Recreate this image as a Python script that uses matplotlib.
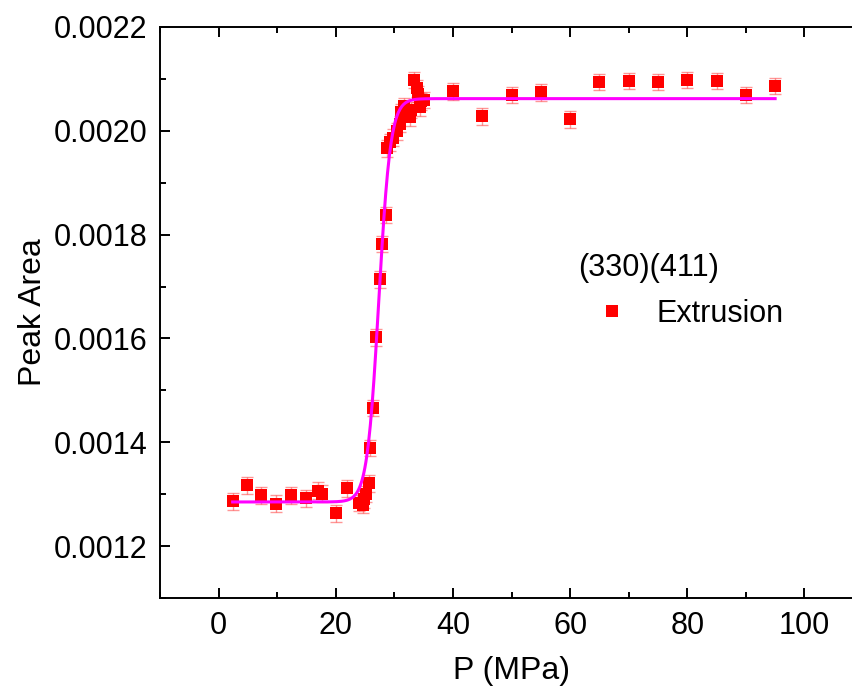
import numpy as np
import matplotlib
matplotlib.use("Agg")
import matplotlib.pyplot as plt
from matplotlib.ticker import MultipleLocator, FormatStrFormatter

plt.rcParams['font.family'] = ['Liberation Sans', 'DejaVu Sans']

# pressure (MPa) and peak area
pressure = [2.4, 4.9, 7.3, 9.8, 12.4, 14.9, 16.9, 17.7, 20.0, 22.0,
            24.0, 24.6, 24.9, 25.2, 25.6, 25.9, 26.4, 26.9, 27.5, 27.9, 28.5,
            28.8, 29.3, 29.8, 30.4, 30.9, 31.2, 31.6, 32.1, 32.6, 32.9,
            33.3, 33.8, 34.1, 34.3, 34.6, 35.1,
            40, 45, 50, 55, 60, 65, 70, 75, 80, 85, 90, 95]
peak_area = [0.001286, 0.001317, 0.001298, 0.001282, 0.001298, 0.001292, 0.001307, 0.001301, 0.001263, 0.001311,
             0.001283, 0.001280, 0.001290, 0.001300, 0.001321, 0.001389, 0.001466, 0.001602, 0.001714, 0.001782, 0.001838,
             0.001966, 0.001978, 0.001987, 0.001999, 0.002013, 0.002036, 0.002047, 0.002036, 0.002026, 0.002040,
             0.002098, 0.002082, 0.002071, 0.002045, 0.002057, 0.002059,
             0.002076, 0.002028, 0.002069, 0.002074, 0.002022, 0.002094, 0.002096, 0.002094, 0.002098, 0.002096,
             0.002069, 0.002086]
area_err = 0.000016

# Boltzmann fit parameters
A1 = 0.001285
A2 = 0.002062
x0 = 27.35
dx = 1.0

fig = plt.figure(figsize=(8.52, 6.92), dpi=100)
ax = fig.add_axes([160/852, 1-598/692, 703/852, 571/692])

ax.errorbar(pressure, peak_area, yerr=area_err, fmt='none', ecolor='#ff4040',
            elinewidth=1.0, capsize=4, capthick=1.0, alpha=0.55, zorder=2)
ax.plot(pressure, peak_area, 's', color='#ff0000', markersize=8.5,
        markeredgewidth=0, label='Extrusion', zorder=3)

xfit = np.linspace(min(pressure), max(pressure), 600)
yfit = A2 + (A1 - A2) / (1 + np.exp((xfit - x0) / dx))
ax.plot(xfit, yfit, color='#ff00ff', linewidth=2.2, zorder=4)

ax.set_xlim(-10, 110)
ax.set_ylim(0.0011, 0.0022)
ax.xaxis.set_major_locator(MultipleLocator(20))
ax.xaxis.set_minor_locator(MultipleLocator(10))
ax.yaxis.set_major_locator(MultipleLocator(0.0002))
ax.yaxis.set_minor_locator(MultipleLocator(0.0001))
ax.yaxis.set_major_formatter(FormatStrFormatter('%.4f'))

ax.tick_params(which='both', direction='in', top=True, right=True, width=1.4)
ax.tick_params(which='major', length=7, labelsize=22, pad=9)
ax.tick_params(which='minor', length=4)
for s in ax.spines.values():
    s.set_linewidth(1.4)

ax.set_xlabel('P (MPa)', fontsize=23, labelpad=11)
ax.set_ylabel('Peak Area', fontsize=23, labelpad=4)

leg = ax.legend(title='(330)(411)', loc='upper left', bbox_to_anchor=(0.577, 0.625),
                frameon=False, fontsize=22, title_fontsize=22, alignment='left',
                handlelength=2.24, handletextpad=0.35, borderaxespad=0)

fig.savefig('out.png', dpi=100)
